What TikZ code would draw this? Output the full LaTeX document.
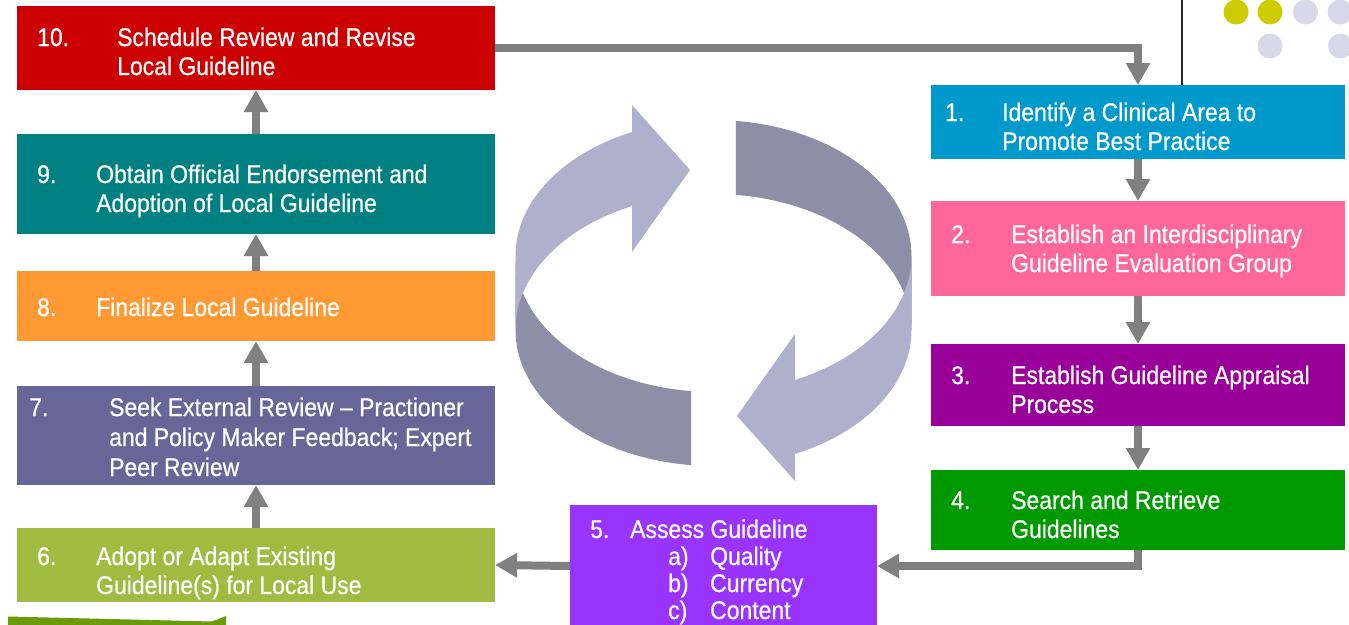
\documentclass[tikz,border=0pt]{standalone}
\usepackage{fontspec}
\setmainfont{Liberation Sans}[FakeStretch=0.9,FakeBold=0.6]
\usetikzlibrary{arrows.meta}
\definecolor{cTen}{HTML}{CC0000}
\definecolor{cNine}{HTML}{008080}
\definecolor{cEight}{HTML}{FF9933}
\definecolor{cSeven}{HTML}{666699}
\definecolor{cSix}{HTML}{A0BC40}
\definecolor{cOne}{HTML}{0099CC}
\definecolor{cTwo}{HTML}{FF6699}
\definecolor{cThree}{HTML}{990099}
\definecolor{cFour}{HTML}{009900}
\definecolor{cFive}{HTML}{9933FF}
\definecolor{arrowgray}{HTML}{808080}
\definecolor{ringlight}{HTML}{B0B0CC}
\definecolor{ringdark}{HTML}{8E8EA6}
\definecolor{dotyellow}{HTML}{CCCC00}
\definecolor{dotlav}{HTML}{D8D8EA}
\definecolor{leafgreen}{HTML}{6B9A0B}
\begin{document}
\begin{tikzpicture}[x=1pt,y=-1pt,
  box/.style={draw=none,inner sep=0,outer sep=0},
  lbl/.style={text=white,inner sep=0,anchor=base west,align=left,
    font=\fontsize{25.5}{29}\selectfont},
  conn/.style={draw=arrowgray,line width=8pt,line join=miter,
    -{Triangle[width=23pt,length=22pt]}},
  ellone/.style={x radius=198,y radius=136},
]
\useasboundingbox (0,0) rectangle (1349,624);
\clip (0,0) rectangle (1349,624);
% decorations top right
\draw[line width=2pt,black!85] (1182,0) -- (1182,85);
\fill[dotyellow] (1236,12) circle (12.5) (1270,12) circle (12.5);
\fill[dotlav] (1305.5,12) circle (12.5) (1340,12) circle (12.5)
  (1270,46) circle (12.5) (1340.5,46) circle (12.5);
% bottom-left green strip
\fill[leafgreen] (8,616.5) -- (212,621.5) -- (226,616) -- (226,626) -- (8,626) -- cycle;
% circular arrows
\fill[ringdark] (735.9,120.9) arc[start angle=-83.5,end angle=0,ellone]
  -- (911.5,330) arc[start angle=0,end angle=-83.5,ellone] -- cycle;
\fill[ringdark] (691.1,391.1) arc[start angle=96.5,end angle=180,ellone]
  -- (515.5,330) arc[start angle=180,end angle=96.5,ellone] -- cycle;
\fill[ringlight] (632,105) -- (690,170) -- (632,252) -- (632,206.1)
  arc[start angle=-114.3,end angle=-180,ellone]
  -- (515.5,256) arc[start angle=180,end angle=245.7,ellone] -- cycle;
\fill[ringlight] (795,481) -- (737,416) -- (795,334) -- (795,379.9)
  arc[start angle=65.7,end angle=0,ellone]
  -- (911.5,330) arc[start angle=0,end angle=65.7,ellone] -- cycle;
% boxes
\node[box,fill=cTen,minimum width=478pt,minimum height=84pt] (b10) at (256,48) {};
\node[box,fill=cNine,minimum width=478pt,minimum height=100pt] (b9) at (256,184) {};
\node[box,fill=cEight,minimum width=478pt,minimum height=70pt] (b8) at (256,306) {};
\node[box,fill=cSeven,minimum width=478pt,minimum height=99pt] (b7) at (256,435.5) {};
\node[box,fill=cSix,minimum width=478pt,minimum height=74pt] (b6) at (256,565) {};
\node[box,fill=cOne,minimum width=414pt,minimum height=74pt] (b1) at (1138,122) {};
\node[box,fill=cTwo,minimum width=414pt,minimum height=95pt] (b2) at (1138,248.5) {};
\node[box,fill=cThree,minimum width=414pt,minimum height=82pt] (b3) at (1138,385) {};
\node[box,fill=cFour,minimum width=414pt,minimum height=80pt] (b4) at (1138,510) {};
\node[box,fill=cFive,minimum width=307pt,minimum height=122pt] (b5) at (723.5,566) {};
% connectors
\draw[conn] (b10.east) -| (b1.north);
\draw[conn] (b1.south) -- (b2.north);
\draw[conn] (b2.south) -- (b3.north);
\draw[conn] (b3.south) -- (b4.north);
\draw[conn] (b4.south) |- (b5.east);
\draw[conn] (b5.west) -- (b6.east);
\draw[conn] (b6.north) -- (b7.south);
\draw[conn] (b7.north) -- (b8.south);
\draw[conn] (b8.north) -- (b9.south);
\draw[conn] (b9.north) -- (b10.south);
% labels (multi-line nodes are anchored at the baseline of their last line)
\node[lbl] (n10) at (37,46) {10.};
\node[lbl] (t10) at (117,75) {Schedule Review and Revise\\Local Guideline};
\node[lbl] (n9) at (37,183) {9.};
\node[lbl] (t9) at (96,212) {Obtain Official Endorsement and\\Adoption of Local Guideline};
\node[lbl] (n8) at (37,316) {8.};
\node[lbl] (t8) at (96,316) {Finalize Local Guideline};
\node[lbl] (n7) at (29,416) {7.};
\node[lbl,font=\fontsize{25.5}{30}\selectfont] (t7) at (109,476) {Seek External Review – Practioner\\and Policy Maker Feedback; Expert\\Peer Review};
\node[lbl] (n6) at (37,565) {6.};
\node[lbl] (t6) at (96,594) {Adopt or Adapt Existing\\Guideline(s) for Local Use};
\node[lbl] (n1) at (945,121) {1.};
\node[lbl] (t1) at (1002,150) {Identify a Clinical Area to\\Promote Best Practice};
\node[lbl] (n2) at (951,243) {2.};
\node[lbl] (t2) at (1011,272) {Establish an Interdisciplinary\\Guideline Evaluation Group};
\node[lbl] (n3) at (951,384) {3.};
\node[lbl] (t3) at (1011,413) {Establish Guideline Appraisal\\Process};
\node[lbl] (n4) at (951,509) {4.};
\node[lbl] (t4) at (1011,538) {Search and Retrieve\\Guidelines};
\node[lbl] (n5) at (590,538) {5.};
\node[lbl] (t5) at (630,538) {Assess Guideline};
\node[lbl] (n5a) at (668,565) {a)};
\node[lbl] (t5a) at (710,565) {Quality};
\node[lbl] (n5b) at (668,592) {b)};
\node[lbl] (t5b) at (710,592) {Currency};
\node[lbl] (n5c) at (668,619) {c)};
\node[lbl] (t5c) at (710,619) {Content};
\end{tikzpicture}
\end{document}
